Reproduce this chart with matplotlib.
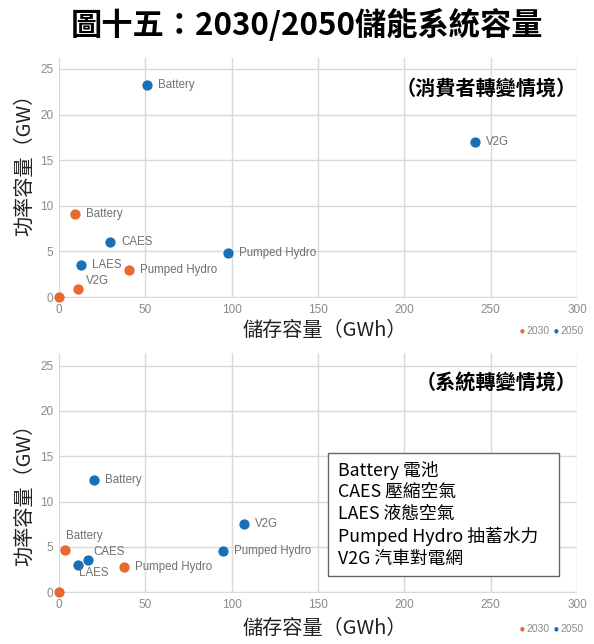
import matplotlib
matplotlib.use("Agg")
import matplotlib.pyplot as plt

plt.rcParams['font.family'] = ['Noto Sans CJK TC', 'DejaVu Sans']

# ---- data ----
# Consumer transformation scenario (top)
top_2030_labels = ["Battery", "Pumped Hydro", "V2G", ""]
top_2030_x = [9.3, 40.5, 11.0, 0.0]
top_2030_y = [9.1, 3.0, 0.9, 0.0]
top_2050_labels = ["Battery", "V2G", "CAES", "Pumped Hydro", "LAES"]
top_2050_x = [51.0, 241.0, 29.5, 98.0, 12.7]
top_2050_y = [23.2, 17.0, 6.0, 4.8, 3.5]

# System transformation scenario (bottom)
bot_2030_labels = ["Battery", "Pumped Hydro", ""]
bot_2030_x = [3.5, 37.6, 0.0]
bot_2030_y = [4.65, 2.8, 0.0]
bot_2050_labels = ["Battery", "V2G", "Pumped Hydro", "CAES", "LAES"]
bot_2050_x = [20.3, 107.0, 95.0, 16.8, 11.0]
bot_2050_y = [12.4, 7.5, 4.5, 3.5, 3.0]

x_ticks = [0, 50, 100, 150, 200, 250, 300]
y_ticks = [0, 5, 10, 15, 20, 25]

title = "圖十五：2030/2050儲能系統容量"
subtitles = ["（消費者轉變情境）", "（系統轉變情境）"]
xlabel = "儲存容量（GWh）"
ylabel = "功率容量（GW）"
legend_lines = ["Battery 電池", "CAES 壓縮空氣", "LAES 液態空氣",
                "Pumped Hydro 抽蓄水力", "V2G 汽車對電網"]

C2030 = "#e8692a"
C2050 = "#1a6fb5"
GRID = "#d9d9d9"
TICK = "#8a8a8a"
LBL = "#707070"

W, H = 594, 644
fig = plt.figure(figsize=(W / 100, H / 100), dpi=100)
fig.patch.set_facecolor("white")

def ax_rect(left_px, right_px, top_px, bottom_px):
    return [left_px / W, 1 - bottom_px / H, (right_px - left_px) / W, (bottom_px - top_px) / H]

# label offsets in points: (dx, dy, ha, va)
def offsets(labels, special):
    return [special.get(l, (8, 0, "left", "center")) for l in labels]

def draw(ax, s30, s50, ylim_top, sub, sub_y, off30, off50):
    ax.set_xlim(0, 300)
    ax.set_ylim(-0.1, ylim_top)
    ax.set_xticks(x_ticks)
    ax.set_yticks(y_ticks)
    ax.grid(True, color=GRID, linewidth=1.0)
    ax.set_axisbelow(True)
    for sp in ax.spines.values():
        sp.set_visible(False)
    ax.tick_params(length=0, colors=TICK, labelsize=8.5, pad=4)
    for t in ax.get_xticklabels() + ax.get_yticklabels():
        t.set_fontfamily(['Liberation Sans'])
    for (xs, ys, labs), col, offs in ((s30, C2030, off30), (s50, C2050, off50)):
        ax.scatter(xs, ys, s=55, color=col, zorder=3, clip_on=False, linewidths=0)
        for x, y, l, (dx, dy, ha, va) in zip(xs, ys, labs, offs):
            if l:
                ax.annotate(l, (x, y), xytext=(dx, dy), textcoords="offset points",
                            ha=ha, va=va, fontsize=8.3, color=LBL,
                            family=['Liberation Sans'])
    ax.text(1.0, sub_y, sub, transform=ax.transAxes, ha="right", va="center",
            fontsize=14.5, fontweight="bold", color="black")

ax1 = fig.add_axes(ax_rect(59, 577, 58, 298))
draw(ax1,
     (top_2030_x, top_2030_y, top_2030_labels),
     (top_2050_x, top_2050_y, top_2050_labels),
     26.2, subtitles[0], 0.875,
     offsets(top_2030_labels, {"V2G": (6, 6, "left", "center")}),
     offsets(top_2050_labels, {}))

ax2 = fig.add_axes(ax_rect(59, 577, 353, 593))
draw(ax2,
     (bot_2030_x, bot_2030_y, bot_2030_labels),
     (bot_2050_x, bot_2050_y, bot_2050_labels),
     26.4, subtitles[1], 0.88,
     offsets(bot_2030_labels, {"Battery": (1, 10, "left", "center")}),
     offsets(bot_2050_labels, {"CAES": (4, 6, "left", "center"),
                               "LAES": (1, -6, "left", "center")}))

fig.text(307 / W, 1 - 25 / H, title, ha="center", va="center",
         fontsize=22.5, fontweight="bold", color="black")

for ycen, xly in ((160, 330), (490, 628)):
    fig.text(25 / W, 1 - ycen / H, ylabel, rotation=90, ha="center", va="center",
             fontsize=14.5, color="#222222")
    fig.text(325 / W, 1 - xly / H, xlabel, ha="center", va="center",
             fontsize=14.5, color="#222222")
    # small legend
    fig.text(520 / W, 1 - (xly + 1) / H, "●", ha="left", va="center",
             fontsize=4, color=C2030, family=['DejaVu Sans'])
    fig.text(526 / W, 1 - (xly + 1) / H, "2030", ha="left", va="center",
             fontsize=7.5, color=TICK, family=['Liberation Sans'])
    fig.text(554 / W, 1 - (xly + 1) / H, "●", ha="left", va="center",
             fontsize=4, color=C2050, family=['DejaVu Sans'])
    fig.text(560 / W, 1 - (xly + 1) / H, "2050", ha="left", va="center",
             fontsize=7.5, color=TICK, family=['Liberation Sans'])

# text box in bottom chart
bx0, bx1, by0, by1 = 328, 559, 453, 576
fig.patches.append(plt.Rectangle((bx0 / W, 1 - by1 / H), (bx1 - bx0) / W, (by1 - by0) / H,
                                 transform=fig.transFigure, facecolor="white",
                                 edgecolor="#666666", linewidth=1.0, zorder=5))
for i, line in enumerate(legend_lines):
    fig.text(338 / W, 1 - (470 + i * 22.2) / H, line, ha="left", va="center",
             fontsize=12.8, color="black", zorder=6)

fig.savefig("out.png", dpi=100, facecolor="white")
